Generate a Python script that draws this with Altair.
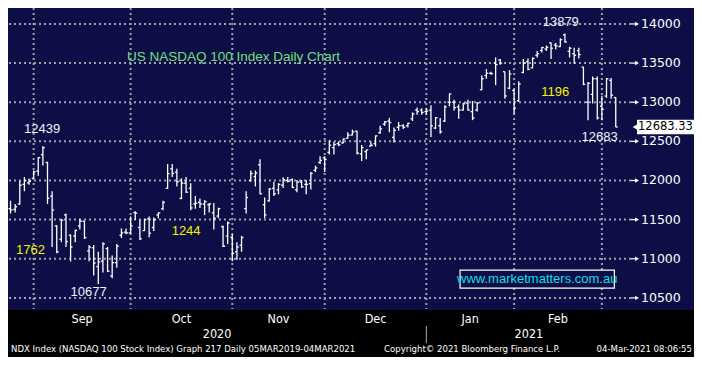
import altair as alt
import pandas as pd

# ---------------- data ----------------
dates = [
    "2020-08-24", "2020-08-25", "2020-08-26", "2020-08-27", "2020-08-28", "2020-08-31",
    "2020-09-01", "2020-09-02", "2020-09-03", "2020-09-04", "2020-09-08", "2020-09-09",
    "2020-09-10", "2020-09-11", "2020-09-14", "2020-09-15", "2020-09-16", "2020-09-17",
    "2020-09-18", "2020-09-21", "2020-09-22", "2020-09-23", "2020-09-24", "2020-09-25",
    "2020-09-28", "2020-09-29", "2020-09-30",
    "2020-10-01", "2020-10-02", "2020-10-05", "2020-10-06", "2020-10-07", "2020-10-08",
    "2020-10-09", "2020-10-12", "2020-10-13", "2020-10-14", "2020-10-15", "2020-10-16",
    "2020-10-19", "2020-10-20", "2020-10-21", "2020-10-22", "2020-10-23", "2020-10-26",
    "2020-10-27", "2020-10-28", "2020-10-29", "2020-10-30",
    "2020-11-02", "2020-11-03", "2020-11-04", "2020-11-05", "2020-11-06", "2020-11-09",
    "2020-11-10", "2020-11-11", "2020-11-12", "2020-11-13", "2020-11-16", "2020-11-17",
    "2020-11-18", "2020-11-19", "2020-11-20", "2020-11-23", "2020-11-24", "2020-11-25",
    "2020-11-27", "2020-11-30",
    "2020-12-01", "2020-12-02", "2020-12-03", "2020-12-04", "2020-12-07", "2020-12-08",
    "2020-12-09", "2020-12-10", "2020-12-11", "2020-12-14", "2020-12-15", "2020-12-16",
    "2020-12-17", "2020-12-18", "2020-12-21", "2020-12-22", "2020-12-23", "2020-12-24",
    "2020-12-28", "2020-12-29", "2020-12-30", "2020-12-31",
    "2021-01-04", "2021-01-05", "2021-01-06", "2021-01-07", "2021-01-08", "2021-01-11",
    "2021-01-12", "2021-01-13", "2021-01-14", "2021-01-15", "2021-01-19", "2021-01-20",
    "2021-01-21", "2021-01-22", "2021-01-25", "2021-01-26", "2021-01-27", "2021-01-28",
    "2021-01-29",
    "2021-02-01", "2021-02-02", "2021-02-03", "2021-02-04", "2021-02-05", "2021-02-08",
    "2021-02-09", "2021-02-10", "2021-02-11", "2021-02-12", "2021-02-16", "2021-02-17",
    "2021-02-18", "2021-02-19", "2021-02-22", "2021-02-23", "2021-02-24", "2021-02-25",
    "2021-02-26",
    "2021-03-01", "2021-03-02", "2021-03-03",
]

opens = [
    11640, 11630, 11700, 11950, 11970, 12030,
    12120, 12330, 12230, 11800, 11420, 11250, 11560, 11300, 11290, 11420, 11480, 11100,
    11140, 10900, 10970, 11130, 10780, 10950, 11300, 11340, 11330,
    11590, 11400, 11360, 11510, 11400, 11560, 11640, 11900, 12150, 12107, 11770, 11966,
    11900, 11700, 11720, 11700, 11690, 11587, 11545, 11410, 11290, 11274,
    11090, 11172, 11640, 12000, 12050, 12200, 11690, 11740, 11900, 11880, 11940, 12000,
    12010, 11880, 11980, 11950, 11960, 12130, 12230, 12290,
    12360, 12420, 12470, 12480, 12540, 12580, 12630, 12340, 12370, 12440, 12470, 12610,
    12720, 12760, 12550, 12680, 12700, 12700, 12790, 12900, 12900, 12880,
    12900, 12670, 12700, 12760, 13000, 13000, 12940, 12900, 12990, 12880, 12900, 13160,
    13340, 13370, 13500, 13540, 13390, 13180, 13150,
    13020, 13380, 13520, 13440, 13600, 13660, 13680, 13760, 13730, 13710, 13860, 13650,
    13620, 13660, 13450, 13000, 13100, 13300, 12950,
    13080, 13280, 13060,
]

highs = [
    11741, 11700, 11998, 12044, 12027, 12128,
    12300, 12439, 12240, 11863, 11430, 11510, 11579, 11310, 11375, 11510, 11485, 11172,
    11176, 11090, 11212, 11150, 11040, 11188, 11387, 11387, 11539,
    11608, 11498, 11510, 11539, 11527, 11592, 11741, 12210, 12212, 12149, 12027, 12046,
    11966, 11803, 11770, 11750, 11713, 11713, 11652, 11424, 11477, 11314,
    11212, 11294, 11863, 12128, 12128, 12271, 11783, 11905, 11985, 11966, 12040, 12046,
    12027, 12006, 12006, 12006, 12107, 12189, 12311, 12311,
    12514, 12494, 12500, 12535, 12617, 12650, 12637, 12454, 12393, 12494, 12576, 12698,
    12760, 12800, 12678, 12747, 12719, 12739, 12870, 12934, 12922, 12922,
    12962, 12812, 12800, 12962, 13114, 13032, 12971, 12992, 13032, 13016, 13004, 13342,
    13423, 13390, 13573, 13553, 13390, 13410, 13166,
    13268, 13553, 13560, 13573, 13655, 13707, 13724, 13764, 13756, 13817, 13879, 13707,
    13695, 13695, 13451, 13260, 13328, 13328, 13084,
    13308, 13308, 13065,
]

lows = [
    11579, 11590, 11690, 11863, 11944, 12027,
    12060, 12190, 11700, 11151, 11070, 11212, 11150, 10965, 11212, 11375, 11253, 10968,
    10785, 10677, 10825, 10830, 10750, 10886, 11265, 11314, 11323,
    11498, 11241, 11356, 11274, 11356, 11518, 11619, 11893, 12046, 11924, 11762, 11843,
    11619, 11640, 11648, 11558, 11591, 11375, 11518, 11150, 11190, 10968,
    10985, 11090, 11579, 11985, 11924, 11823, 11518, 11730, 11803, 11823, 11905, 11973,
    11905, 11851, 11905, 11823, 11884, 12107, 12210, 12107,
    12332, 12332, 12440, 12474, 12535, 12576, 12332, 12250, 12271, 12433, 12433, 12596,
    12698, 12617, 12486, 12637, 12658, 12678, 12760, 12840, 12840, 12840,
    12555, 12658, 12596, 12747, 12950, 12894, 12788, 12894, 12894, 12771, 12882, 13154,
    13300, 13350, 13218, 13480, 13044, 13166, 12852,
    13004, 13370, 13410, 13431, 13573, 13634, 13655, 13553, 13675, 13707, 13764, 13573,
    13492, 13560, 13218, 12771, 12983, 12779, 12771,
    13056, 13044, 12683,
]

closes = [
    11625, 11665, 11939, 12000, 11990, 12110,
    12292, 12420, 11773, 11622, 11089, 11491, 11220, 11150, 11361, 11480, 11270, 11150,
    10945, 10960, 11190, 10841, 10950, 11160, 11330, 11330, 11418,
    11583, 11255, 11500, 11326, 11500, 11586, 11720, 12088, 12090, 11985, 11966, 11850,
    11650, 11710, 11700, 11730, 11700, 11518, 11640, 11160, 11457, 11070,
    11150, 11270, 11783, 12090, 12095, 11830, 11560, 11890, 11830, 11950, 12010, 11990,
    11910, 11980, 11920, 11950, 12090, 12160, 12258, 12268,
    12450, 12460, 12455, 12530, 12580, 12620, 12350, 12420, 12390, 12450, 12570, 12660,
    12750, 12740, 12640, 12700, 12680, 12730, 12850, 12880, 12870, 12888,
    12698, 12802, 12623, 12940, 13105, 12932, 12900, 12980, 12900, 12800, 12990, 13300,
    13370, 13365, 13480, 13500, 13080, 13360, 12925,
    13232, 13500, 13420, 13560, 13620, 13700, 13700, 13690, 13720, 13800, 13770, 13690,
    13600, 13610, 13230, 13240, 13300, 12800, 12909,
    13300, 13090, 12683.33,
]

# month boundaries (trading-day index, Sep 1 2020 = 0) and labels
month_bounds = [-1, 20, 42, 62, 84, 103, 122]
month_names = ["Sep", "Oct", "Nov", "Dec", "Jan", "Feb"]
month_mid = [9.5, 31, 52, 73, 93.5, 112.5]
year_names = ["2020", "2021"]
year_mid = [38.7, 106.2]
year_split = [84]

y_grid = [10500, 11000, 11500, 12000, 12500, 13000, 13500, 14000]
y_labels = ["10500", "11000", "11500", "12000", "12500", "13000", "13500", "14000"]
y_minor = [10750, 11250, 11750, 12250, 12750, 13250, 13750]

ann_text = ["12439", "1762", "10677", "1244", "13879", "1196", "12683"]
ann_t = [0.85, -1.7, 10.9, 32.0, 113.1, 111.9, 121.5]
ann_v = [12653, 11115, 10578, 11359, 14021, 13129, 12556]
ann_col = ["#eef2ff", "#f2f200", "#eef2ff", "#f2f200", "#eef2ff", "#f2f200", "#eef2ff"]

last_price = 12683.33

# ---------------- layout ----------------
W, H = 623, 301
PR, PB = 63, 48
NAVY = "#0e0e46"
GRID = "#a0a0aa"
COND = "DejaVu Sans Condensed, Liberation Sans Narrow, Liberation Sans"

xs = alt.Scale(domain=[-6.55, 128.3], nice=False, zero=False)
ys = alt.Scale(domain=[10358, 14204], nice=False, zero=False)

df = pd.DataFrame({"date": dates, "open": opens, "high": highs, "low": lows, "close": closes})
df["t"] = list(range(-6, len(dates) - 6))

# bottom black band
band = alt.Chart(pd.DataFrame({"a": [0]})).mark_rect(color="black").encode(
    x=alt.value(0), x2=alt.value(W + PR), y=alt.value(H + 1), y2=alt.value(H + PB)
)

hgrid = alt.Chart(pd.DataFrame({"v": y_grid})).mark_rule(
    color=GRID, strokeDash=[2, 3], strokeWidth=2
).encode(y=alt.Y("v:Q", scale=ys, axis=None))

vgrid = alt.Chart(pd.DataFrame({"t": month_bounds})).mark_rule(
    color=GRID, strokeDash=[2, 3], strokeWidth=2
).encode(x=alt.X("t:Q", scale=xs, axis=None))

base = alt.Chart(df)
wick = base.mark_rule(color="white", strokeWidth=1.3).encode(
    x=alt.X("t:Q", scale=xs, axis=alt.Axis(
        orient="bottom", values=month_bounds, labels=False, tickColor="white",
        tickSize=4, tickWidth=1.2, domainColor="white", domainWidth=1.6,
        grid=False, title=None, zindex=2)),
    y=alt.Y("low:Q", scale=ys, axis=alt.Axis(
        orient="right", values=y_minor, labels=False,
        tickColor="white", tickSize=5, tickWidth=1.2, domainColor="white",
        domainWidth=1.6, grid=False, title=None, zindex=2)),
    y2="high:Q",
)
open_tick = base.transform_calculate(tl="datum.t - 0.42").mark_rule(
    color="white", strokeWidth=1.3
).encode(x=alt.X("tl:Q", scale=xs, axis=None), x2="t:Q", y=alt.Y("open:Q", scale=ys, axis=None))
close_tick = base.transform_calculate(tr="datum.t + 0.42").mark_rule(
    color="white", strokeWidth=1.3
).encode(x=alt.X("t:Q", scale=xs, axis=None), x2="tr:Q", y=alt.Y("close:Q", scale=ys, axis=None))

# major ticks (arrow heads) and labels on the right axis
ylab_df = pd.DataFrame({"v": y_grid, "s": y_labels})
major_ticks = alt.Chart(ylab_df).mark_rule(color="white", strokeWidth=1.2).encode(
    x=alt.value(W), x2=alt.value(W + 5), y=alt.Y("v:Q", scale=ys, axis=None))
arrows = alt.Chart(ylab_df).mark_point(
    shape="triangle-right", filled=True, color="white", size=20, opacity=1
).encode(x=alt.value(W + 6), y=alt.Y("v:Q", scale=ys, axis=None))
ylabels = alt.Chart(ylab_df).mark_text(
    color="white", font="DejaVu Sans", fontSize=12.5, align="left", baseline="middle"
).encode(x=alt.value(W + 10), y=alt.Y("v:Q", scale=ys, axis=None), text="s:N")

# last price callout
lp = pd.DataFrame({"v": [last_price], "lo": [last_price - 92], "hi": [last_price + 92],
                   "txt": [f"{last_price:.2f}"]})
lp_box = alt.Chart(lp).mark_rect(color="white").encode(
    x=alt.value(W + 6), x2=alt.value(W + PR),
    y=alt.Y("lo:Q", scale=ys, axis=None), y2="hi:Q")
lp_ptr = alt.Chart(lp).mark_point(shape="triangle-left", filled=True, color="white",
                                  size=60, opacity=1).encode(
    x=alt.value(W + 5), y=alt.Y("v:Q", scale=ys, axis=None))
lp_txt = alt.Chart(lp).mark_text(color="black", font="DejaVu Sans", fontSize=11.5,
                                 align="left", baseline="middle").encode(
    x=alt.value(W + 7), y=alt.Y("v:Q", scale=ys, axis=None), text="txt:N")

# title
title = alt.Chart(pd.DataFrame({"t": [19.2], "v": [13581],
                                "s": ["US NASDAQ 100 Index Daily Chart"]})).mark_text(
    color="#6fe07c", font="Liberation Sans", fontSize=13.5, align="left", baseline="middle"
).encode(x=alt.X("t:Q", scale=xs, axis=None), y=alt.Y("v:Q", scale=ys, axis=None), text="s:N")

# annotations
ann = alt.Chart(pd.DataFrame({"s": ann_text, "t": ann_t, "v": ann_v, "c": ann_col})).mark_text(
    font="Liberation Sans", fontSize=13, align="center", baseline="middle"
).encode(x=alt.X("t:Q", scale=xs, axis=None), y=alt.Y("v:Q", scale=ys, axis=None),
         text="s:N", color=alt.Color("c:N", scale=None))

# watermark box
wm = pd.DataFrame({"t1": [91.3], "t2": [124.7], "v1": [10626], "v2": [10855],
                   "tm": [108.0], "vm": [10740], "s": ["www.marketmatters.com.au"]})
wm_box = alt.Chart(wm).mark_rect(fill=NAVY, stroke="white", strokeWidth=1.2).encode(
    x=alt.X("t1:Q", scale=xs, axis=None), x2="t2:Q",
    y=alt.Y("v1:Q", scale=ys, axis=None), y2="v2:Q")
wm_txt = alt.Chart(wm).mark_text(color="#10dde8", font="Liberation Sans", fontSize=13,
                                 align="center", baseline="middle").encode(
    x=alt.X("tm:Q", scale=xs, axis=None), y=alt.Y("vm:Q", scale=ys, axis=None), text="s:N")

# month / year labels below
months = alt.Chart(pd.DataFrame({"m": month_names, "t": month_mid})).mark_text(
    color="white", font=COND, fontSize=12.5, baseline="middle"
).encode(x=alt.X("t:Q", scale=xs, axis=None), y=alt.value(H + 10), text="m:N")
years = alt.Chart(pd.DataFrame({"m": year_names, "t": year_mid})).mark_text(
    color="white", font=COND, fontSize=12.5, baseline="middle"
).encode(x=alt.X("t:Q", scale=xs, axis=None), y=alt.value(H + 25), text="m:N")
ysep = alt.Chart(pd.DataFrame({"t": year_split})).mark_rule(color="#aaaaaa", strokeWidth=1).encode(
    x=alt.X("t:Q", scale=xs, axis=None), y=alt.value(H + 17), y2=alt.value(H + 34))

foot = pd.DataFrame({
    "s": ["NDX Index (NASDAQ 100 Stock Index) Graph 217  Daily 05MAR2019-04MAR2021",
          "Copyright\u00a9 2021 Bloomberg Finance L.P.",
          "04-Mar-2021 08:06:55"],
})
foot_l = alt.Chart(foot.iloc[[0]]).mark_text(color="white", font=COND, fontSize=9.5,
                                             align="left", baseline="middle").encode(
    x=alt.value(3), y=alt.value(H + 40), text="s:N")
foot_m = alt.Chart(foot.iloc[[1]]).mark_text(color="white", font=COND, fontSize=9.5,
                                             align="left", baseline="middle").encode(
    x=alt.value(376), y=alt.value(H + 40), text="s:N")
foot_r = alt.Chart(foot.iloc[[2]]).mark_text(color="white", font=COND, fontSize=9.5,
                                             align="right", baseline="middle").encode(
    x=alt.value(W + PR - 2), y=alt.value(H + 40), text="s:N")

chart = alt.layer(
    band, hgrid, vgrid, wm_box, wm_txt, wick, open_tick, close_tick,
    major_ticks, arrows, ylabels,
    lp_box, lp_ptr, lp_txt, title, ann, months, years, ysep, foot_l, foot_m, foot_r
).properties(
    width=W, height=H,
    padding={"left": 0, "top": 0, "right": PR, "bottom": PB},
    autosize=alt.AutoSizeParams(type="none"),
).configure(background=NAVY).configure_view(stroke=None)

chart.save("out.html", embed_options={"renderer": "svg", "actions": False})
